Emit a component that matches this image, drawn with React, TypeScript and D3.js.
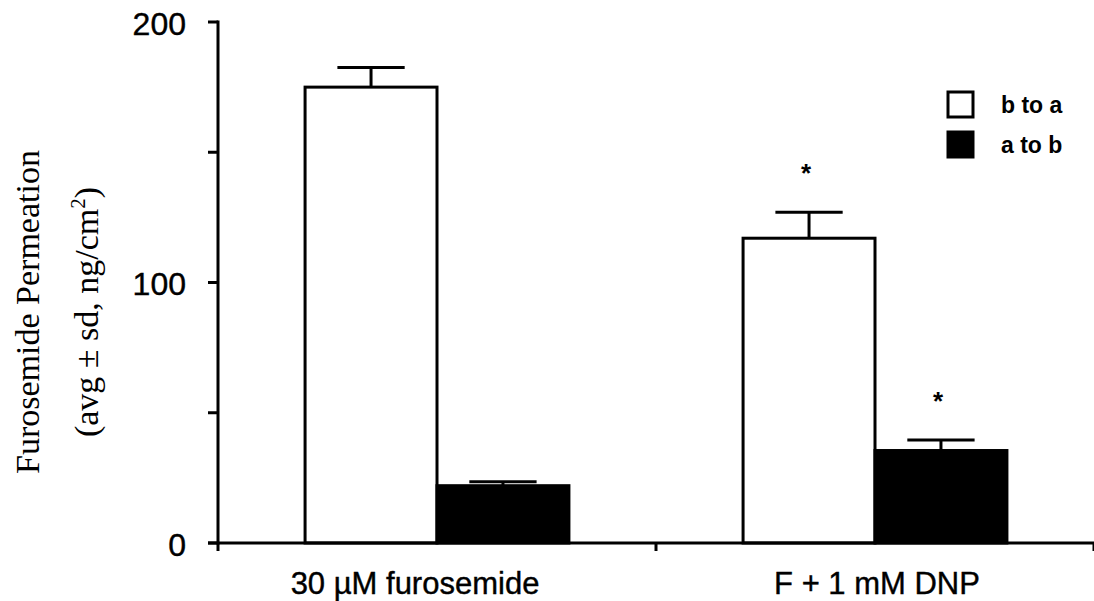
import { useEffect, useRef } from "react";
import * as d3 from "d3";

// data
const categories = ["30 µM furosemide", "F + 1 mM DNP"];
const series = ["b to a", "a to b"];
const bToA = [175, 117];
const bToASd = [7.5, 10];
const aToB = [22, 35.5];
const aToBSd = [1.5, 4];
const significant = [
  [false, false],
  [true, true],
];
const yTicks = [0, 100, 200];
const yMinorTicks = [50, 150];

const W = 1094;
const H = 601;

export default function App() {
  const svgRef = useRef<SVGSVGElement>(null);

  useEffect(() => {
    if (!svgRef.current) return;
    const svg = d3.select(svgRef.current);
    svg.selectAll("*").remove();

    const left = 218;
    const right = 1094;
    const top = 22;
    const bottom = 543;

    const y = d3.scaleLinear().domain([0, 200]).range([bottom, top]);
    const x0 = d3.scaleBand<string>().domain(categories).range([left, right]);
    const x1 = d3
      .scaleBand<string>()
      .domain(series)
      .range([0, x0.bandwidth()])
      .paddingInner(0)
      .paddingOuter(0.66);

    const sans = "'Liberation Sans', Arial, sans-serif";
    const serif = "'Liberation Serif', 'Times New Roman', serif";

    const rows = categories.flatMap((c, i) => [
      { cat: c, s: series[0], v: bToA[i], sd: bToASd[i], fill: "#fff", sig: significant[i][0] },
      { cat: c, s: series[1], v: aToB[i], sd: aToBSd[i], fill: "#000", sig: significant[i][1] },
    ]);

    const g = svg.append("g");

    // bars
    g.selectAll("rect.bar")
      .data(rows)
      .enter()
      .append("rect")
      .attr("class", "bar")
      .attr("x", (d) => x0(d.cat)! + x1(d.s)!)
      .attr("y", (d) => y(d.v))
      .attr("width", x1.bandwidth())
      .attr("height", (d) => y(0) - y(d.v))
      .attr("fill", (d) => d.fill)
      .attr("stroke", "#000")
      .attr("stroke-width", 3);

    // error bars
    const capW = x1.bandwidth() * 0.51;
    rows.forEach((d) => {
      const cx = x0(d.cat)! + x1(d.s)! + x1.bandwidth() / 2;
      g.append("line")
        .attr("x1", cx)
        .attr("x2", cx)
        .attr("y1", y(d.v))
        .attr("y2", y(d.v + d.sd))
        .attr("stroke", "#000")
        .attr("stroke-width", 3);
      g.append("line")
        .attr("x1", cx - capW / 2)
        .attr("x2", cx + capW / 2)
        .attr("y1", y(d.v + d.sd))
        .attr("y2", y(d.v + d.sd))
        .attr("stroke", "#000")
        .attr("stroke-width", 3);
      if (d.sig) {
        g.append("text")
          .attr("x", cx - 3)
          .attr("y", y(d.v + d.sd) - 30)
          .attr("text-anchor", "middle")
          .attr("font-family", sans)
          .attr("font-weight", "bold")
          .attr("font-size", 26)
          .text("*");
      }
    });

    // y axis
    g.append("line")
      .attr("x1", left)
      .attr("x2", left)
      .attr("y1", top - 1.5)
      .attr("y2", bottom + 1.5)
      .attr("stroke", "#000")
      .attr("stroke-width", 3);
    g.selectAll("line.ytick")
      .data([...yTicks, ...yMinorTicks])
      .enter()
      .append("line")
      .attr("x1", left - 10)
      .attr("x2", left)
      .attr("y1", (d) => y(d))
      .attr("y2", (d) => y(d))
      .attr("stroke", "#000")
      .attr("stroke-width", 3);
    g.selectAll("text.ytick")
      .data(yTicks)
      .enter()
      .append("text")
      .attr("x", left - 32)
      .attr("y", (d) => y(d) + 1)
      .attr("dy", "0.36em")
      .attr("text-anchor", "end")
      .attr("font-family", sans)
      .attr("font-size", 32)
      .attr("stroke", "#000")
      .attr("stroke-width", 0.4)
      .text((d) => d);

    // x axis
    g.append("line")
      .attr("x1", left - 10)
      .attr("x2", right)
      .attr("y1", bottom)
      .attr("y2", bottom)
      .attr("stroke", "#000")
      .attr("stroke-width", 3);
    const xTickPos = [...categories.map((c) => x0(c)!), right];
    g.selectAll("line.xtick")
      .data(xTickPos)
      .enter()
      .append("line")
      .attr("x1", (d) => d)
      .attr("x2", (d) => d)
      .attr("y1", bottom)
      .attr("y2", bottom + 8)
      .attr("stroke", "#000")
      .attr("stroke-width", 3);
    g.selectAll("text.xlabel")
      .data(categories)
      .enter()
      .append("text")
      .attr("x", (d, i) => x0(d)! + x0.bandwidth() / 2 + (i === 0 ? -22 : 2))
      .attr("y", 594)
      .attr("text-anchor", "middle")
      .attr("font-family", sans)
      .attr("font-size", 31)
      .attr("stroke", "#000")
      .attr("stroke-width", 0.4)
      .text((d) => d);

    // y title
    const title = g
      .append("text")
      .attr("transform", "translate(0,312) rotate(-90)")
      .attr("text-anchor", "middle")
      .attr("font-family", serif)
      .attr("font-size", 34);
    title.append("tspan").attr("x", 0).attr("y", 39).text("Furosemide Permeation");
    const l2 = title.append("tspan").attr("x", 0).attr("y", 98);
    l2.append("tspan").text("(avg ± sd, ng/cm");
    l2.append("tspan").attr("font-size", 21).attr("dy", -13).text("2");
    l2.append("tspan").attr("dy", 13).text(")");

    // legend
    const legend = g.append("g");
    series.forEach((s, i) => {
      const ly = 92 + i * 40;
      legend
        .append("rect")
        .attr("x", 948)
        .attr("y", ly)
        .attr("width", 25)
        .attr("height", 25)
        .attr("fill", i === 0 ? "#fff" : "#000")
        .attr("stroke", "#000")
        .attr("stroke-width", 3);
      legend
        .append("text")
        .attr("x", 1001)
        .attr("y", ly + 21)
        .attr("font-family", sans)
        .attr("font-weight", "bold")
        .attr("font-size", 23)
        .text(s);
    });
  }, []);

  return (
    <div style={{ position: "absolute", left: 0, top: 0 }}>
      <svg ref={svgRef} width={W} height={H} style={{ display: "block", background: "#fff" }} />
    </div>
  );
}
